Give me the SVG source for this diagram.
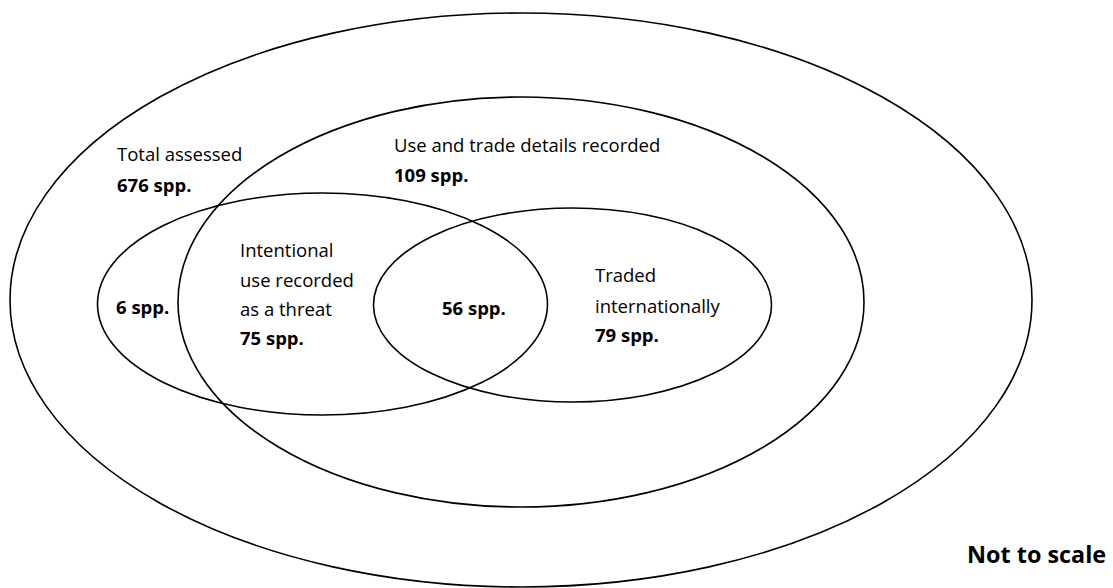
<svg xmlns="http://www.w3.org/2000/svg" width="1113" height="588" viewBox="0 0 1113 588">
<style>
.e{fill:none;stroke:#000;stroke-width:1.6}
.t{font-family:"Open Sans","Liberation Sans",sans-serif;font-size:18.5px;fill:#000}
.b{font-weight:bold}
</style>
<rect width="1113" height="588" fill="#fff"/>
<g id="total"><ellipse class="e" cx="521" cy="300" rx="511" ry="287"/>
<text class="t" x="117" y="161">Total assessed</text>
<text class="t b" x="117" y="192">676 spp.</text></g>
<g id="usetrade"><ellipse class="e" cx="521" cy="302" rx="343" ry="205"/>
<text class="t" x="394" y="152">Use and trade details recorded</text>
<text class="t b" x="394" y="182">109 spp.</text></g>
<g id="intentional"><ellipse class="e" cx="322.5" cy="304" rx="225" ry="111"/>
<text class="t b" x="116" y="314">6 spp.</text>
<text class="t" x="240" y="257">Intentional</text>
<text class="t" x="240" y="287">use recorded</text>
<text class="t" x="240" y="316">as a threat</text>
<text class="t b" x="240" y="345">75 spp.</text></g>
<g id="traded"><ellipse class="e" cx="572.5" cy="305" rx="199" ry="97"/>
<text class="t b" x="442" y="315">56 spp.</text>
<text class="t" x="595" y="282">Traded</text>
<text class="t" x="595" y="313">internationally</text>
<text class="t b" x="595" y="342">79 spp.</text></g>
<g id="connectors"></g>
<text class="t b" x="967" y="563" style="font-size:23.4px">Not to scale</text>
</svg>
